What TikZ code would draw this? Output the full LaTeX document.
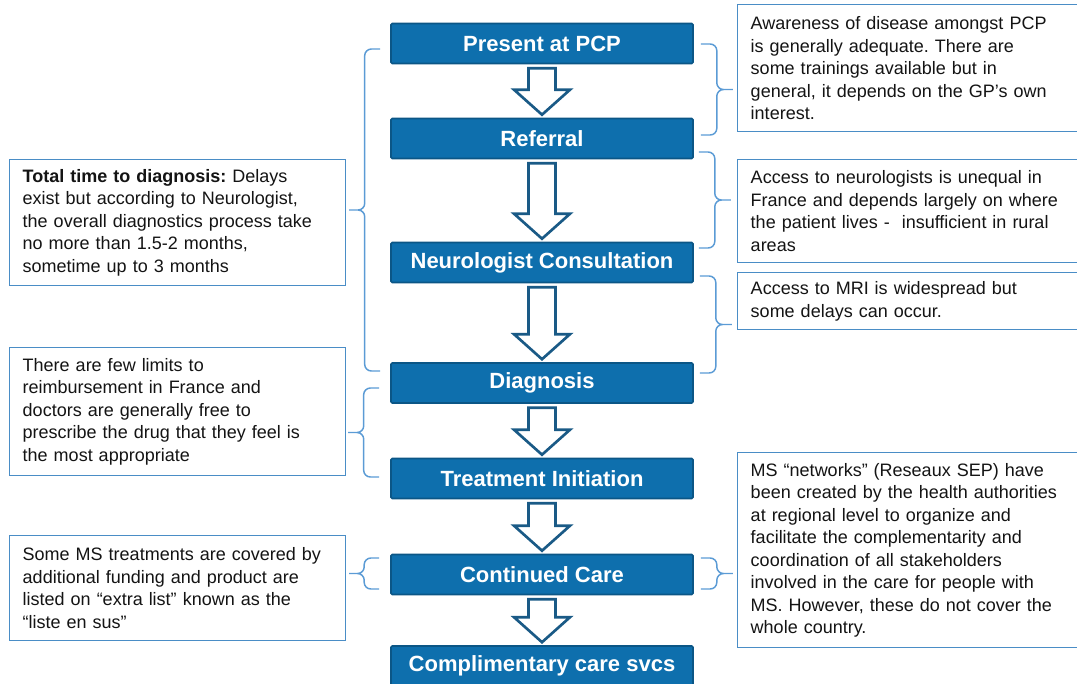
\documentclass[tikz,border=0pt]{standalone}
\usepackage{fontspec}
\setmainfont{Liberation Sans}
\usetikzlibrary{calc}
\frenchspacing

\definecolor{stepblue}{HTML}{0E6FAD}
\definecolor{stepedge}{HTML}{0B5686}
\definecolor{arrowedge}{HTML}{1A5A86}
\definecolor{bracketblue}{HTML}{5B9BD5}
\definecolor{noteedge}{HTML}{4A8DC6}
\definecolor{notetext}{HTML}{141414}

\tikzset{
  stepbox/.style={fill=stepblue, draw=stepedge, line width=1.2pt, rounded corners=1pt,
    minimum width=226.5pt, minimum height=30pt, inner sep=0pt, text=white,
    font=\bfseries\fontsize{16.5}{19}\selectfont},
  flowarrow/.style={fill=white, draw=arrowedge, line width=2pt, line join=miter},
  bracket/.style={draw=bracketblue, line width=1.1pt, rounded corners=5pt},
  notebox/.style={draw=noteedge, line width=1.1pt, fill=white, anchor=north west,
    align=left, inner xsep=9.75pt, inner ysep=0pt, text=notetext,
    font=\fontsize{13.5}{16.9}\selectfont},
  leftnote/.style={notebox, text width=232.5pt},
  rightnote/.style={notebox, text width=255pt}
}

% curly bracket from #1 to #2, tip offset #3 (negative points left)
\newcommand{\sidebrace}[3]{%
  \draw[bracket] let \p1=#1, \p2=#2, \n1={0.5*(#3)}, \n2={#3}, \n3={0.5*\y1+0.5*\y2} in
    (\p1) -- ({\x1+\n1},\y1) -- ({\x1+\n1},\n3) -- ({\x1+\n2},\n3)
    ({\x1+\n2},\n3) -- ({\x1+\n1},\n3) -- ({\x1+\n1},\y2) -- (\p2);}

% hollow block arrow between two steps
\newcommand{\stepflow}[2]{%
  \draw[flowarrow] ($(#1.south)+(-13.5,4)$) -- ($(#2.north)+(-13.5,-28)$)
    -- ($(#2.north)+(-28,-28)$) -- ($(#2.north)+(0,-3)$) -- ($(#2.north)+(28,-28)$)
    -- ($(#2.north)+(13.5,-28)$) -- ($(#1.south)+(13.5,4)$) -- cycle;}

\begin{document}
\begin{tikzpicture}[x=0.75pt, y=-0.75pt]
  \useasboundingbox (0,0) rectangle (1077,683);
  \clip (0,0) rectangle (1077,683);

  % Pathway steps
  \node[stepbox] (pcp) at (542,43.5) {Present at PCP};
  \node[stepbox] (ref) at (542,138.5) {Referral};
  \node[stepbox] (neu) at (542,262.5) {Neurologist Consultation};
  \node[stepbox] (dia) at (542,383) {Diagnosis};
  \node[stepbox] (tre) at (542,478.5) {Treatment Initiation};
  \node[stepbox] (con) at (542,574.5) {Continued Care};
  \node[stepbox] (com) at (542,666) {Complimentary care svcs};

  \foreach \a/\b in {pcp/ref, ref/neu, neu/dia, dia/tre, tre/con, con/com}
    \stepflow{\a}{\b};

  % Left notes
  \node[leftnote, minimum height=94.5pt] (tot) at (9,159)
    {\textbf{Total time to diagnosis:} Delays\\exist but according to Neurologist,\\the overall diagnostics process take\\no more than 1.5-2 months,\\sometime up to 3 months};
  \node[leftnote, minimum height=96pt] (lim) at (9,347)
    {There are few limits to\\reimbursement in France and\\doctors are generally free to\\prescribe the drug that they feel is\\the most appropriate};
  \node[leftnote, minimum height=78.75pt] (sus) at (9,535)
    {Some MS treatments are covered by\\additional funding and product are\\listed on “extra list” known as the\\“liste en sus”};

  % Right notes
  \node[rightnote, minimum height=95.25pt] (awa) at (737,4)
    {Awareness of disease amongst PCP\\is generally adequate. There are\\some trainings available but in\\general, it depends on the GP’s own\\interest.};
  \node[rightnote, minimum height=77.25pt] (acc) at (737,159)
    {Access to neurologists is unequal in\\France and depends largely on where\\the patient lives - \ insufficient in rural\\areas};
  \node[rightnote, minimum height=42.75pt] (mri) at (737,272)
    {Access to MRI is widespread but\\some delays can occur.};
  \node[rightnote, minimum height=146.25pt] (net) at (737,452)
    {MS “networks” (Reseaux SEP) have\\been created by the health authorities\\at regional level to organize and\\facilitate the complementarity and\\coordination of all stakeholders\\involved in the care for people with\\MS. However, these do not cover the\\whole country.};

  % Brackets on the left
  \sidebrace{($(dia.west)+(-10,-12)$)}{($(pcp.west)+(-10,5.5)$)}{-23.25pt}
  \sidebrace{($(tre.west)+(-11,-1.5)$)}{($(dia.west)+(-11,5)$)}{-23.25pt}
  \sidebrace{($(con.west)+(-11,14.5)$)}{($(con.west)+(-11,-16.5)$)}{-22.5pt}

  % Brackets on the right
  \sidebrace{($(pcp.east)+(7,0.5)$)}{($(ref.east)+(7,-3.5)$)}{24pt}
  \sidebrace{($(ref.east)+(5,13.5)$)}{($(neu.east)+(5,-14.5)$)}{24pt}
  \sidebrace{($(neu.east)+(6,13.5)$)}{($(dia.east)+(6,-10)$)}{24pt}
  \sidebrace{($(con.east)+(7,-16.5)$)}{($(con.east)+(7,14.5)$)}{24pt}
\end{tikzpicture}
\end{document}
